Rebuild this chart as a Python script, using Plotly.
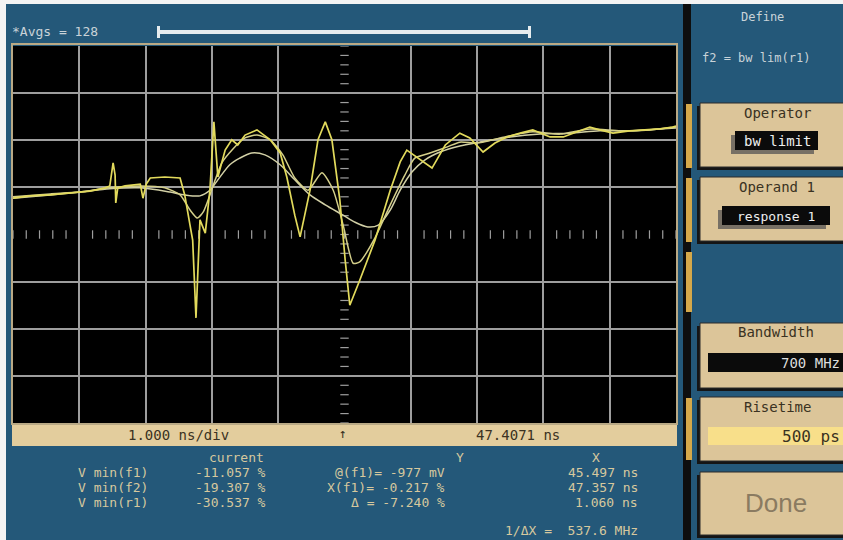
import numpy as np
import plotly.graph_objects as go

W, H = 843, 540

# ---------------- data (x in ns from left edge of screen, y in divisions) ----------------
r1_x = [0.00, 0.26, 0.56, 0.86, 1.16, 1.39, 1.46, 1.51, 1.54, 1.55, 1.58, 1.69, 1.92, 1.96, 2.01,
        2.07, 2.29, 2.52, 2.59, 2.67, 2.71, 2.76, 2.79, 2.82, 2.90, 2.97, 3.03, 3.09, 3.20, 3.30,
        3.39, 3.50, 3.68, 3.88, 4.03, 4.13, 4.25, 4.33, 4.40, 4.48, 4.60, 4.71, 4.81, 4.93, 5.01,
        5.08, 5.23, 5.46, 5.69, 5.84, 5.94, 6.14, 6.32, 6.52, 6.74, 6.89, 7.09, 7.27, 7.45, 7.65,
        7.84, 8.10, 8.30, 8.51, 8.70, 8.85, 9.05, 9.30, 9.56, 9.76, 9.95, 10.00]
r1_y = [0.77, 0.82, 0.84, 0.88, 0.92, 0.99, 1.03, 1.52, 1.26, 0.67, 0.99, 1.03, 1.07, 0.77, 1.07,
        1.20, 1.22, 1.20, 0.84, 0.20, -0.12, -1.77, -0.54, 0.31, 0.03, 0.94, 2.39, 1.22, 1.79, 2.01,
        1.90, 2.11, 2.22, 2.01, 1.73, 1.22, 0.41, -0.05, 0.41, 0.94, 2.01, 2.39, 2.01, 0.73, -0.54,
        -1.50, -0.97, -0.12, 0.94, 1.54, 1.79, 1.58, 1.41, 1.90, 2.15, 2.05, 1.75, 1.94, 2.07, 2.15,
        2.22, 2.07, 2.07, 2.18, 2.28, 2.22, 2.15, 2.20, 2.22, 2.24, 2.28, 2.30]

f1_x = [0.00, 0.56, 1.01, 1.46, 1.92, 2.29, 2.52, 2.67, 2.78, 2.87, 2.97, 3.05, 3.15, 3.30, 3.50,
        3.68, 3.88, 4.07, 4.25, 4.45, 4.66, 4.83, 4.98, 5.13, 5.23, 5.46, 5.69, 5.91, 6.06, 6.29,
        6.55, 6.74, 7.00, 7.35, 7.84, 8.25, 8.70, 9.16, 9.61, 10.00]
f1_y = [0.80, 0.86, 0.90, 0.99, 1.03, 0.99, 0.84, 0.52, 0.35, 0.48, 0.84, 1.16, 1.52, 1.79, 2.05,
        2.11, 2.01, 1.69, 1.20, 0.94, 1.31, 0.94, 0.20, -0.61, -0.58, -0.07, 0.63, 1.26, 1.62, 1.73,
        1.86, 1.96, 1.94, 2.05, 2.18, 2.13, 2.24, 2.20, 2.22, 2.28]

f2_x = [0.00, 0.56, 1.01, 1.46, 1.92, 2.37, 2.59, 2.82, 2.97, 3.09, 3.27, 3.42, 3.60, 3.80, 4.03,
        4.25, 4.48, 4.71, 4.98, 5.16, 5.35, 5.51, 5.69, 5.84, 6.02, 6.21, 6.44, 6.74, 7.04, 7.50,
        7.95, 8.40, 8.85, 9.30, 10.00]
f2_y = [0.77, 0.84, 0.90, 0.97, 0.99, 0.90, 0.84, 0.82, 0.94, 1.16, 1.48, 1.62, 1.73, 1.69, 1.48,
        1.16, 0.84, 0.63, 0.41, 0.26, 0.16, 0.20, 0.52, 0.94, 1.33, 1.58, 1.75, 1.88, 1.96, 2.07,
        2.13, 2.15, 2.20, 2.20, 2.26]

grid_x = [1, 2, 3, 4, 6, 7, 8, 9]
grid_y = [-3, -2, -1, 1, 2, 3]

meas_names = ["V min(f1)", "V min(f2)", "V min(r1)"]
meas_current = ["-11.057 %", "-19.307 %", "-30.537 %"]
cursor_y = ["@(f1)= -977 mV", "X(f1)= -0.217 %", "Δ = -7.240 %"]
cursor_x = ["45.497 ns", "47.357 ns", "1.060 ns"]

# ---------------- colours ----------------
BLUE = "#245879"
TAN = "#e3cd9d"
BTN = "#dcc599"
GRID = "#9e9e9e"
TXT = "#d6c89e"
MONO = "DejaVu Sans Mono"


def X(p):
    return p / W


def Y(p):
    return 1 - p / H


fig = go.Figure()

# center-line tick marks (oscilloscope graticule)
tx = np.round(np.arange(0, 10.001, 0.2), 2)
ty = np.round(np.arange(-4, 4.001, 0.2), 2)
fig.add_trace(go.Scatter(x=tx, y=np.zeros_like(tx), mode="markers",
                         marker=dict(symbol="line-ns", size=6, line=dict(color=GRID, width=1.2)),
                         hoverinfo="skip", showlegend=False))
fig.add_trace(go.Scatter(x=np.full_like(ty, 5.0), y=ty, mode="markers",
                         marker=dict(symbol="line-ew", size=6, line=dict(color=GRID, width=1.2)),
                         hoverinfo="skip", showlegend=False))

fig.add_trace(go.Scatter(x=f2_x, y=f2_y, mode="lines", name="f2",
                         line=dict(color="#d2d0a6", width=1.5, shape="spline", smoothing=0.8)))
fig.add_trace(go.Scatter(x=f1_x, y=f1_y, mode="lines", name="f1",
                         line=dict(color="#d4cf8a", width=1.5, shape="spline", smoothing=0.6)))
fig.add_trace(go.Scatter(x=r1_x, y=r1_y, mode="lines", name="r1",
                         line=dict(color="#e2da5c", width=1.7)))

shapes = []


def rect(x0, y0, x1, y1, fill, line=None, lw=0, layer="below"):
    shapes.append(dict(type="rect", xref="paper", yref="paper",
                       x0=X(x0), x1=X(x1), y0=Y(y1), y1=Y(y0),
                       fillcolor=fill, line=dict(color=line or fill, width=lw), layer=layer))


# instrument blue background (photo has a thin white edge top/left)
rect(6, 4, 850, 545, BLUE)
# black screen area
rect(13, 46, 676, 423, "#000000")
# plot frame
shapes.append(dict(type="rect", xref="paper", yref="paper", x0=X(12), x1=X(677), y0=Y(424), y1=Y(44),
                   line=dict(color="#b9a985", width=2), fillcolor="rgba(0,0,0,0)", layer="above"))
# tan status bar
rect(12, 423, 677, 446, TAN)
# top progress bar
rect(158, 30, 530, 34, "#e6ecee")
rect(157, 26, 160, 38, "#e6ecee")
rect(528, 26, 531, 38, "#e6ecee")

# right panel strip
rect(683, 4, 691, 545, "#0e0e0e")
for a, b in [(104, 168), (178, 242), (252, 312), (398, 460)]:
    rect(686, a, 692, b, "#d5a84a")

# buttons
for a, b in [(103, 167), (177, 241), (323, 388), (397, 461), (472, 535)]:
    rect(697, a + 3, 850, b + 3, "#151515")
    rect(700, a, 850, b, BTN, line="#2a2a2a", lw=1)

# inner value fields
rect(731, 135, 814, 154, "#777065")
rect(735, 131, 818, 150, "#0b0b0b")
rect(718, 210, 826, 229, "#777065")
rect(722, 206, 830, 225, "#0b0b0b")
rect(708, 353, 850, 372, "#0b0b0b")
rect(708, 427, 850, 445, "#f8df8a")

anns = []


def txt(x, y, s, size=11, color=TXT, anchor="center", family=MONO):
    anns.append(dict(xref="paper", yref="paper", x=X(x), y=Y(y), text=s, showarrow=False,
                     xanchor=anchor, yanchor="middle",
                     font=dict(family=family, size=size, color=color)))


txt(10, 32, "*Avgs = 128", size=13, color="#c9d3d8", anchor="left")

SB = "#3b3222"
txt(178, 435, "1.000 ns/div", size=14, color=SB)
txt(343, 433, "↑", size=13, color=SB)
txt(518, 435, "47.4071 ns", size=14, color=SB)

txt(236, 457, "current", size=13)
txt(460, 457, "Y", size=13)
txt(596, 457, "X", size=13)
for i in range(3):
    yy = 472 + i * 15.3
    txt(150, yy, meas_names[i], size=13, anchor="right")
    txt(268, yy, meas_current[i], size=13, anchor="right")
    txt(447, yy, cursor_y[i], size=13, anchor="right")
    txt(640, yy, cursor_x[i], size=13, anchor="right")
txt(640, 530, "1/ΔX =  537.6 MHz", size=13, anchor="right")

txt(762, 17, "Define", size=12, color="#c9d3d8")
txt(700, 58, "f2 = bw lim(r1)", size=12, color="#c9d3d8", anchor="left")

BT = "#3a3222"
txt(777, 113, "Operator", size=14, color=BT)
txt(777, 141, "bw limit", size=14, color="#eeeeee")
txt(777, 187, "Operand 1", size=14, color=BT)
txt(776, 216, "response 1", size=13, color="#eeeeee")
txt(776, 332, "Bandwidth", size=14, color=BT)
txt(842, 363, "700 MHz", size=14, color="#dddddd", anchor="right")
txt(777, 407, "Risetime", size=14, color=BT)
txt(842, 436, "500 ps", size=16, color=BT, anchor="right")
txt(776, 503, "Done", size=26, color="#8a7b61", family="Liberation Sans Narrow, Liberation Sans, Arial")

fig.update_layout(
    width=W, height=H, margin=dict(l=0, r=0, t=0, b=0),
    paper_bgcolor="#f4f4f4", plot_bgcolor="#000000",
    showlegend=False, hovermode=False,
    shapes=shapes, annotations=anns,
    xaxis=dict(domain=[X(13), X(676)], range=[0, 10], tickvals=grid_x, showticklabels=False,
               showgrid=True, gridcolor=GRID, gridwidth=1.5, zeroline=False, showline=False,
               ticks="", fixedrange=True),
    yaxis=dict(domain=[Y(423), Y(46)], range=[-4, 4], tickvals=grid_y, showticklabels=False,
               showgrid=True, gridcolor=GRID, gridwidth=1.5, zeroline=False, showline=False,
               ticks="", fixedrange=True),
)

fig.write_html("out.html", config={"displayModeBar": False},
               post_script="document.body.style.margin='0';document.body.style.overflow='hidden';")
